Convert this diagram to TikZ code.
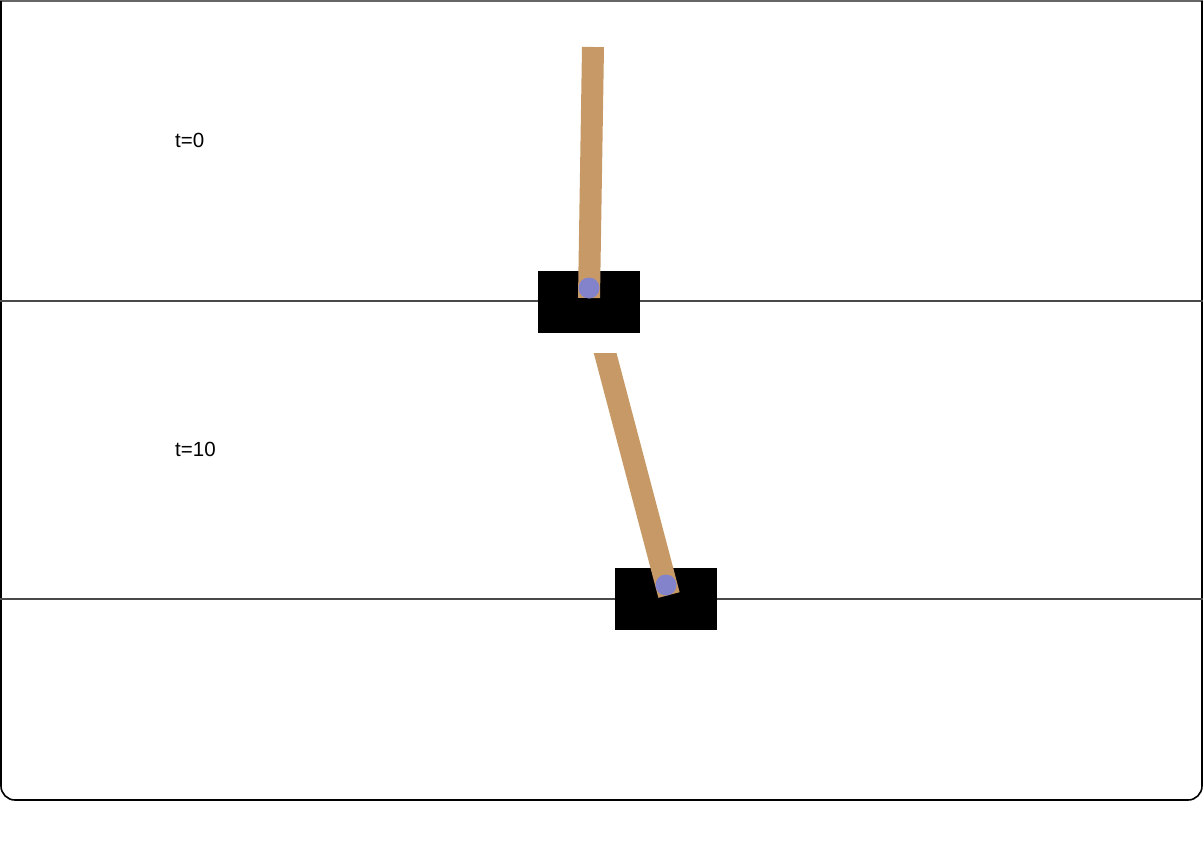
\documentclass[tikz,border=0pt]{standalone}
\usepackage{fontspec}
\setmainfont{Liberation Sans}
\definecolor{polecol}{HTML}{C69966}
\definecolor{axlecol}{HTML}{8383CC}
\definecolor{trackcol}{HTML}{4A4A4A}
\begin{document}
\begin{tikzpicture}[x=1pt,y=-1pt,
  cartbox/.style={fill=black,draw=none,minimum width=102pt,minimum height=62pt,inner sep=0pt,rectangle},
  polebar/.style={draw=polecol,line width=22pt,line cap=butt},
  axle/.style={fill=axlecol,draw=none,circle,inner sep=0pt,minimum size=21pt},
  track/.style={draw=trackcol,line width=2.2pt},
  tlabel/.style={font=\fontsize{20.5pt}{24pt}\selectfont,inner sep=0pt,anchor=base west}]
\useasboundingbox (0,0) rectangle (1203,849);
% frame
\draw[gray!80!black,line width=1.5pt] (0,1) -- (1203,1);
\draw[black,line width=1.6pt,rounded corners=14pt] (1,1) -- (1,800) -- (1202,800) -- (1202,1);
% tracks
\coordinate (tl1) at (0,301);
\coordinate (tr1) at (1203,301);
\coordinate (tl2) at (0,599);
\coordinate (tr2) at (1203,599);
\draw[track] (tl1) -- (tr1);
\draw[track] (tl2) -- (tr2);
% carts
\node[cartbox] (cart1) at (589,302) {};
\node[cartbox] (cart2) at (666,598.5) {};
% poles
\coordinate (p1b) at (589,298);
\coordinate (p1t) at (593,47);
\coordinate (p2b) at (669,595);
\coordinate (p2t) at (603,345);
\draw[polebar] (p1b) -- (p1t);
\begin{scope}
\clip (0,353) rectangle (1203,849);
\draw[polebar] (p2b) -- (p2t);
\end{scope}
% axles
\node[axle] (axle1) at (589,288) {};
\node[axle] (axle2) at (666,585) {};
% labels
\node[tlabel] (lab0) at (175,147) {t=0};
\node[tlabel] (lab10) at (175,456) {t=10};
\end{tikzpicture}
\end{document}
